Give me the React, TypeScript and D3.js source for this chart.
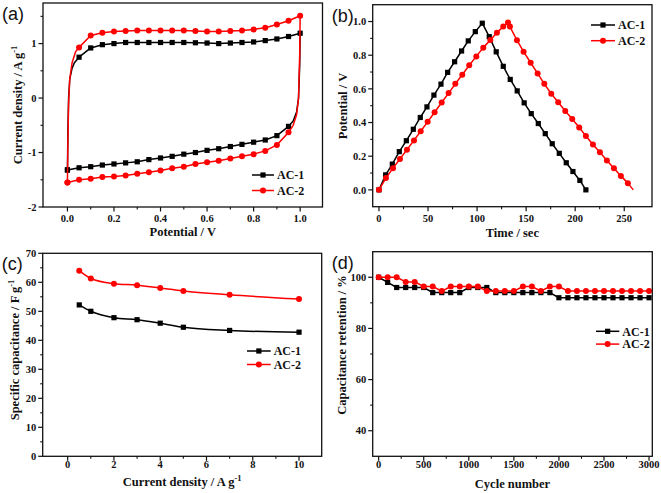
import React from 'react';
import * as d3 from 'd3';

// ---------- Data ----------
// (a) CV curves: [potential V, current density A/g]
const cvAc1Up: [number, number][] = [
  [0, -1.32], [0.002, -0.6], [0.005, 0], [0.01, 0.35], [0.02, 0.55], [0.03, 0.65],
  [0.05, 0.75], [0.1, 0.92], [0.15, 0.98], [0.2, 1.0], [0.25, 1.02], [0.3, 1.02],
  [0.35, 1.02], [0.4, 1.02], [0.45, 1.02], [0.5, 1.02], [0.55, 1.015], [0.6, 1.01],
  [0.65, 1.0], [0.7, 1.01], [0.75, 1.02], [0.8, 1.03], [0.85, 1.055], [0.9, 1.085],
  [0.95, 1.13], [1.0, 1.19],
];
const cvAc1Down: [number, number][] = [
  [0.998, 0.6], [0.993, 0], [0.985, -0.25], [0.97, -0.42], [0.95, -0.52],
  [0.9, -0.69], [0.85, -0.77], [0.8, -0.81], [0.75, -0.85], [0.7, -0.89],
  [0.65, -0.93], [0.6, -0.96], [0.55, -1.0], [0.5, -1.03], [0.45, -1.07],
  [0.4, -1.1], [0.35, -1.13], [0.3, -1.17], [0.25, -1.19], [0.2, -1.21],
  [0.15, -1.23], [0.1, -1.26], [0.05, -1.28], [0.0, -1.32],
];
const cvAc2Up: [number, number][] = [
  [0, -1.55], [0.002, -0.8], [0.005, -0.1], [0.01, 0.35], [0.02, 0.65], [0.035, 0.85],
  [0.05, 0.93], [0.1, 1.15], [0.15, 1.2], [0.2, 1.22], [0.25, 1.23], [0.3, 1.24],
  [0.35, 1.24], [0.4, 1.24], [0.45, 1.24], [0.5, 1.24], [0.55, 1.23], [0.6, 1.22],
  [0.65, 1.22], [0.7, 1.23], [0.75, 1.24], [0.8, 1.26], [0.85, 1.29], [0.9, 1.35],
  [0.95, 1.42], [1.0, 1.51],
];
const cvAc2Down: [number, number][] = [
  [0.998, 0.8], [0.993, 0], [0.985, -0.3], [0.97, -0.5], [0.95, -0.63],
  [0.9, -0.86], [0.85, -0.97], [0.8, -1.03], [0.75, -1.07], [0.7, -1.11],
  [0.65, -1.15], [0.6, -1.18], [0.55, -1.21], [0.5, -1.26], [0.45, -1.29],
  [0.4, -1.33], [0.35, -1.36], [0.3, -1.39], [0.25, -1.42], [0.2, -1.44],
  [0.15, -1.45], [0.1, -1.48], [0.05, -1.5], [0.0, -1.55],
];

// (b) GCD curves: [time s, potential V]
const gcdAc1: [number, number][] = [
  [0, 0], [6.8, 0.089], [13.6, 0.153], [20.7, 0.227], [27.9, 0.292], [35, 0.36],
  [42.1, 0.43], [48.9, 0.493], [56, 0.563], [63.2, 0.628], [70, 0.698], [77.1, 0.761],
  [84.2, 0.825], [91, 0.885], [98.2, 0.94], [105.3, 0.99], [112.4, 0.91], [119.5, 0.82],
  [126.7, 0.734], [133.8, 0.656], [140.9, 0.588], [148, 0.517], [155.2, 0.453],
  [162.4, 0.394], [169.5, 0.334], [176.6, 0.274], [183.8, 0.217], [190.9, 0.161],
  [197.7, 0.109], [204.8, 0.056], [210.9, 0.0],
];
const gcdAc2: [number, number][] = [
  [0, 0], [7.1, 0.07], [14.3, 0.129], [21.4, 0.183], [28.5, 0.239], [35.7, 0.294],
  [42.5, 0.348], [49.6, 0.404], [56.7, 0.461], [63.9, 0.519], [71, 0.575], [77.8, 0.63],
  [84.9, 0.684], [92, 0.74], [99.2, 0.793], [106.3, 0.845], [113.5, 0.89], [120.2, 0.934],
  [126.7, 0.97], [131.5, 0.995], [133.5, 0.97], [140.6, 0.889], [147.4, 0.821],
  [154.6, 0.755], [161.7, 0.692], [168.5, 0.63], [175.6, 0.571], [182.7, 0.521],
  [189.9, 0.469], [197, 0.421], [204.1, 0.37], [210.9, 0.32], [218.1, 0.27],
  [225.2, 0.223], [232.3, 0.175], [239.5, 0.129], [246.6, 0.083], [253.7, 0.04],
  [259.2, 0],
];

// (c) Specific capacitance vs current density
const currentDensity = [0.5, 1, 2, 3, 4, 5, 7, 10];
const capAc1 = [52.2, 50.0, 47.8, 47.1, 45.9, 44.5, 43.4, 42.8];
const capAc2 = [64.0, 61.3, 59.5, 59.0, 58.0, 57.0, 55.7, 54.2];

// (d) Cycling stability
const cycles = [
  0, 100, 200, 300, 400, 500, 600, 700, 800, 900, 1000, 1100, 1200, 1300, 1400, 1500,
  1600, 1700, 1800, 1900, 2000, 2100, 2200, 2300, 2400, 2500, 2600, 2700, 2800, 2900, 3000,
];
const retAc1 = [
  100, 98, 96, 96, 96, 96, 94, 94, 94, 94, 96, 96, 96, 94, 94, 94,
  94, 94, 94, 94, 92, 92, 92, 92, 92, 92, 92, 92, 92, 92, 92,
];
const retAc2 = [
  100, 100, 100, 98.2, 98.2, 96.4, 96.4, 94.6, 96.4, 96.4, 96.4, 96.4, 94.6, 94.6, 94.6, 94.6,
  96.4, 96.4, 94.6, 96.4, 96.4, 94.6, 94.6, 94.6, 94.6, 94.6, 94.6, 94.6, 94.6, 94.6, 94.6,
];

// Tick values
const aXTicks = [0, 0.2, 0.4, 0.6, 0.8, 1.0];
const aYTicks = [-2, -1, 0, 1];
const bXTicks = [0, 50, 100, 150, 200, 250];
const bYTicks = [0, 0.2, 0.4, 0.6, 0.8, 1.0];
const cXTicks = [0, 2, 4, 6, 8, 10];
const cYTicks = [0, 10, 20, 30, 40, 50, 60, 70];
const dXTicks = [0, 500, 1000, 1500, 2000, 2500, 3000];
const dYTicks = [40, 60, 80, 100];

const seriesNames = ['AC-1', 'AC-2'];

// ---------- Rendering ----------
const BLACK = '#000';
const RED = '#ff0000';
const SERIF = '"Liberation Serif", "Times New Roman", serif';
const SANS = '"Liberation Sans", Arial, sans-serif';

type Pt = [number, number];
type Series = {
  name: string;
  color: string;
  shape: 'square' | 'circle';
  points: Pt[];
  marked: (p: Pt, i: number, arr: Pt[]) => boolean;
  smooth?: boolean;
};

type PanelCfg = {
  label: string;
  box: { l: number; r: number; t: number; b: number };
  xDomain: [number, number];
  yDomain: [number, number];
  xTicks: number[];
  yTicks: number[];
  xFmt: (v: number) => string;
  yFmt: (v: number) => string;
  xTitle: React.ReactNode;
  yTitle: React.ReactNode;
  xTickDy: number;
  xTitleY: number;
  yTitleX: number;
  yTitleY: number;
  legend: { x1: number; x2: number; y: number; dy: number };
  series: Series[];
};

function minorTicks(major: number[], domain: [number, number]): number[] {
  const step = major[1] - major[0];
  const res: number[] = [];
  const lo = Math.min(...domain);
  const hi = Math.max(...domain);
  for (let v = major[0] - step / 2; v <= major[major.length - 1] + step / 2 + 1e-9; v += step) {
    const span = hi - lo;
    if (v > lo + span * 0.015 && v < hi - span * 0.015) res.push(v);
  }
  return res;
}

function Marker({ shape, x, y, color }: { shape: string; x: number; y: number; color: string }) {
  if (shape === 'square') return <rect x={x - 2.6} y={y - 2.6} width={5.2} height={5.2} fill={color} />;
  return <circle cx={x} cy={y} r={3} fill={color} />;
}

function Panel({ cfg }: { cfg: PanelCfg }) {
  const { box } = cfg;
  const x = d3.scaleLinear().domain(cfg.xDomain).range([box.l, box.r]);
  const y = d3.scaleLinear().domain(cfg.yDomain).range([box.b, box.t]);
  const xMinor = minorTicks(cfg.xTicks, cfg.xDomain);
  const yMinor = minorTicks(cfg.yTicks, cfg.yDomain);
  const clipId = 'clip' + cfg.label.replace(/[()]/g, '');

  return (
    <g>
      <defs>
        <clipPath id={clipId}>
          <rect x={box.l} y={box.t} width={box.r - box.l} height={box.b - box.t} />
        </clipPath>
      </defs>
      {/* series */}
      <g clipPath={`url(#${clipId})`}>
        {cfg.series.map((s) => {
          const line = d3
            .line<Pt>()
            .x((d) => x(d[0]))
            .y((d) => y(d[1]))
            .curve(s.smooth ? d3.curveMonotoneX : d3.curveLinear);
          return (
            <g key={s.name}>
              <path d={line(s.points) || ''} fill="none" stroke={s.color} strokeWidth={1.5} strokeLinejoin="round" />
              {s.points.map((p, i, arr) =>
                s.marked(p, i, arr) ? <Marker key={i} shape={s.shape} x={x(p[0])} y={y(p[1])} color={s.color} /> : null
              )}
            </g>
          );
        })}
      </g>
      {/* frame */}
      <rect x={box.l} y={box.t} width={box.r - box.l} height={box.b - box.t} fill="none" stroke="#111" strokeWidth={1.3} />
      {/* x ticks */}
      {cfg.xTicks.map((v) => (
        <g key={'xt' + v}>
          <line x1={x(v)} x2={x(v)} y1={box.b} y2={box.b + 4.5} stroke="#111" strokeWidth={1.2} />
          <text x={x(v)} y={box.b + cfg.xTickDy} textAnchor="middle" fontFamily={SERIF} fontWeight="bold" fontSize={10.5} fill="#111">
            {cfg.xFmt(v)}
          </text>
        </g>
      ))}
      {xMinor.map((v) => (
        <line key={'xm' + v} x1={x(v)} x2={x(v)} y1={box.b} y2={box.b + 2.5} stroke="#111" strokeWidth={1.1} />
      ))}
      {/* y ticks */}
      {cfg.yTicks.map((v) => (
        <g key={'yt' + v}>
          <line x1={box.l - 4.5} x2={box.l} y1={y(v)} y2={y(v)} stroke="#111" strokeWidth={1.2} />
          <text x={box.l - 6.5} y={y(v)} dy="0.35em" textAnchor="end" fontFamily={SERIF} fontWeight="bold" fontSize={10.5} fill="#111">
            {cfg.yFmt(v)}
          </text>
        </g>
      ))}
      {yMinor.map((v) => (
        <line key={'ym' + v} x1={box.l - 2.5} x2={box.l} y1={y(v)} y2={y(v)} stroke="#111" strokeWidth={1.1} />
      ))}
      {/* titles */}
      <text x={(box.l + box.r) / 2} y={cfg.xTitleY} textAnchor="middle" fontFamily={SERIF} fontWeight="bold" fontSize={12.5} fill="#111">
        {cfg.xTitle}
      </text>
      <text
        transform={`translate(${cfg.yTitleX},${cfg.yTitleY}) rotate(-90)`}
        textAnchor="middle"
        fontFamily={SERIF}
        fontWeight="bold"
        fontSize={12.5}
        fill="#111"
      >
        {cfg.yTitle}
      </text>
      {/* panel label */}
      <text x={box.l - 41} y={box.t + 17} fontFamily={SANS} fontSize={18} fill="#111">
        {cfg.label}
      </text>
      {/* legend */}
      {cfg.series.map((s, i) => {
        const ly = cfg.legend.y + i * cfg.legend.dy;
        return (
          <g key={'lg' + s.name}>
            <line x1={cfg.legend.x1} x2={cfg.legend.x2} y1={ly} y2={ly} stroke={s.color} strokeWidth={1.5} />
            <Marker shape={s.shape} x={(cfg.legend.x1 + cfg.legend.x2) / 2} y={ly} color={s.color} />
            <text x={cfg.legend.x2 + 3} y={ly} dy="0.35em" fontFamily={SERIF} fontWeight="bold" fontSize={12} fill="#111">
              {s.name}
            </text>
          </g>
        );
      })}
    </g>
  );
}

const onGrid = (p: Pt) => Math.abs(p[0] * 20 - Math.round(p[0] * 20)) < 1e-6;
const all = () => true;
const allButLast = (_p: Pt, i: number, arr: Pt[]) => i < arr.length - 1;

const sup = (s: string) => (
  <tspan dy={-5} fontSize={8.5}>
    {s}
  </tspan>
);

const panels: PanelCfg[] = [
  {
    label: '(a)',
    box: { l: 43, r: 322.5, t: 3, b: 207 },
    xDomain: [-0.105, 1.096],
    yDomain: [-2, 1.745],
    xTicks: aXTicks,
    yTicks: aYTicks,
    xFmt: (v) => v.toFixed(1),
    yFmt: (v) => (v < 0 ? '-' + Math.abs(v) : String(v)),
    xTitle: 'Potential / V',
    yTitle: (
      <>
        Current density / A g{sup('-1')}
      </>
    ),
    xTickDy: 15,
    xTitleY: 236,
    yTitleX: 22,
    yTitleY: 105,
    legend: { x1: 252, x2: 274, y: 175, dy: 15.5 },
    series: [
      { name: seriesNames[0], color: BLACK, shape: 'square', points: [...cvAc1Up, ...cvAc1Down], marked: onGrid },
      { name: seriesNames[1], color: RED, shape: 'circle', points: [...cvAc2Up, ...cvAc2Down], marked: onGrid },
    ],
  },
  {
    label: '(b)',
    box: { l: 372.7, r: 652, t: 4.7, b: 206.7 },
    xDomain: [-6.4, 278.3],
    yDomain: [-0.1, 1.1],
    xTicks: bXTicks,
    yTicks: bYTicks,
    xFmt: (v) => String(v),
    yFmt: (v) => v.toFixed(1),
    xTitle: 'Time / sec',
    yTitle: 'Potential / V',
    xTickDy: 15,
    xTitleY: 237,
    yTitleX: 347,
    yTitleY: 106,
    legend: { x1: 591, x2: 615, y: 25, dy: 15.7 },
    series: [
      { name: seriesNames[0], color: BLACK, shape: 'square', points: gcdAc1, marked: all },
      { name: seriesNames[1], color: RED, shape: 'circle', points: gcdAc2, marked: allButLast },
    ],
  },
  {
    label: '(c)',
    box: { l: 42.7, r: 321.7, t: 253.3, b: 456.3 },
    xDomain: [-1.08, 10.98],
    yDomain: [0, 70],
    xTicks: cXTicks,
    yTicks: cYTicks,
    xFmt: (v) => String(v),
    yFmt: (v) => String(v),
    xTitle: (
      <>
        Current density / A g{sup('-1')}
      </>
    ),
    yTitle: (
      <>
        Specific capacitance / F g{sup('-1')}
      </>
    ),
    xTickDy: 12,
    xTitleY: 486,
    yTitleX: 19,
    yTitleY: 350,
    legend: { x1: 247, x2: 270.7, y: 351, dy: 13.5 },
    series: [
      { name: seriesNames[0], color: BLACK, shape: 'square', points: currentDensity.map((d, i) => [d, capAc1[i]] as Pt), marked: all, smooth: true },
      { name: seriesNames[1], color: RED, shape: 'circle', points: currentDensity.map((d, i) => [d, capAc2[i]] as Pt), marked: all, smooth: true },
    ],
  },
  {
    label: '(d)',
    box: { l: 372.7, r: 652.3, t: 251.7, b: 456.3 },
    xDomain: [-66, 3036],
    yDomain: [30, 110],
    xTicks: dXTicks,
    yTicks: dYTicks,
    xFmt: (v) => String(v),
    yFmt: (v) => String(v),
    xTitle: 'Cycle number',
    yTitle: 'Capacitance retention / %',
    xTickDy: 12,
    xTitleY: 488,
    yTitleX: 346,
    yTitleY: 345,
    legend: { x1: 596, x2: 619.3, y: 331.3, dy: 12.8 },
    series: [
      { name: seriesNames[0], color: BLACK, shape: 'square', points: cycles.map((c, i) => [c, retAc1[i]] as Pt), marked: all },
      { name: seriesNames[1], color: RED, shape: 'circle', points: cycles.map((c, i) => [c, retAc2[i]] as Pt), marked: all },
    ],
  },
];

export default function App() {
  return (
    <svg width={661} height={493} style={{ position: 'absolute', left: 0, top: 0, background: '#fff' }}>
      <rect width={661} height={493} fill="#fff" />
      {panels.map((p) => (
        <Panel key={p.label} cfg={p} />
      ))}
    </svg>
  );
}
